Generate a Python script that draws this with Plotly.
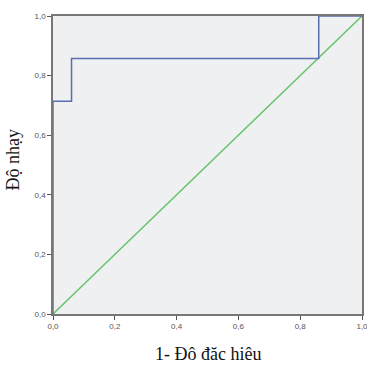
import plotly.graph_objects as go

roc_x = [0.0, 0.0, 0.06, 0.06, 0.86, 0.86, 1.0]
roc_y = [0.0, 0.714, 0.714, 0.857, 0.857, 1.0, 1.0]
ref_x = [0.0, 1.0]
ref_y = [0.0, 1.0]
tick_vals = [0.0, 0.2, 0.4, 0.6, 0.8, 1.0]
tick_text = ["0,0", "0,2", "0,4", "0,6", "0,8", "1,0"]

fig = go.Figure()
fig.add_trace(go.Scatter(x=ref_x, y=ref_y, mode="lines",
                         line=dict(color="#66c46a", width=1.5), showlegend=False))
fig.add_trace(go.Scatter(x=roc_x, y=roc_y, mode="lines",
                         line=dict(color="#5a6db0", width=1.5), showlegend=False))

axis_common = dict(range=[0, 1], tickvals=tick_vals, ticktext=tick_text,
                   ticks="outside", ticklen=4, tickcolor="#555",
                   tickfont=dict(family="Arial, Liberation Sans", size=8, color="#555"),
                   showgrid=False, zeroline=False, showline=True, automargin=False,
                   ticklabeloverflow="allow",
                   linecolor="#777", linewidth=1.5, mirror=True)

fig.update_layout(
    width=367, height=366,
    margin=dict(l=53, r=5, t=16, b=52),
    paper_bgcolor="white", plot_bgcolor="#eff0f2",
    xaxis=dict(**axis_common),
    yaxis=dict(**axis_common),
    annotations=[
        dict(text="1- Đô đăc hiêu", xref="paper", yref="paper", x=0.5, y=-0.135,
             xanchor="center", yanchor="middle", showarrow=False,
             font=dict(family="Liberation Serif, Times New Roman, serif", size=18, color="#111")),
        dict(text="Độ nhạy", xref="paper", yref="paper", x=-0.128, y=0.52,
             xanchor="center", yanchor="middle", showarrow=False, textangle=-90,
             font=dict(family="Liberation Serif, Times New Roman, serif", size=18, color="#111")),
    ],
)

fig.write_html("out.html", config={"displayModeBar": False})
with open("out.html", "r", encoding="utf-8") as f:
    html = f.read()
html = html.replace("<head>", "<head><style>html,body{margin:0;padding:0;overflow:hidden;}</style>", 1)
with open("out.html", "w", encoding="utf-8") as f:
    f.write(html)
